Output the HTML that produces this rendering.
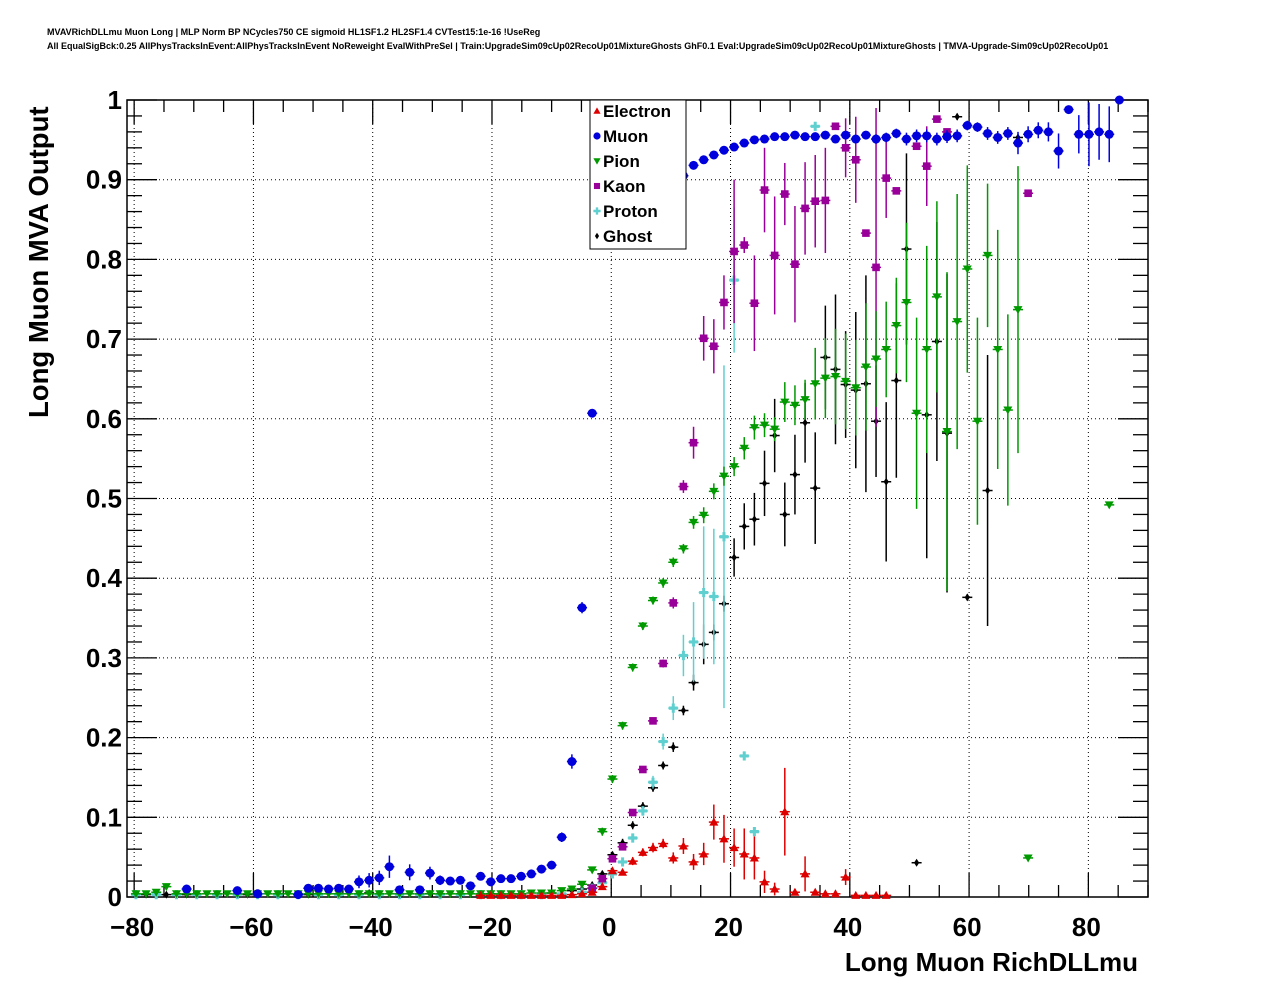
<!DOCTYPE html>
<html><head><meta charset="utf-8"><style>
html,body{margin:0;padding:0;background:#fff;}
svg{display:block;font-family:"Liberation Sans",Arial,sans-serif;}
</style></head><body>
<svg id="chart" width="1276" height="996" viewBox="0 0 1276 996" xmlns="http://www.w3.org/2000/svg">
<rect x="0" y="0" width="1276" height="996" fill="#fff"/>
<text x="47" y="35" font-size="9" font-weight="bold">MVAVRichDLLmu Muon Long | MLP Norm BP NCycles750 CE sigmoid HL1SF1.2 HL2SF1.4 CVTest15:1e-16 !UseReg</text>
<text x="47" y="49" font-size="9" font-weight="bold">All EqualSigBck:0.25 AllPhysTracksInEvent:AllPhysTracksInEvent NoReweight EvalWithPreSel | Train:UpgradeSim09cUp02RecoUp01MixtureGhosts GhF0.1 Eval:UpgradeSim09cUp02RecoUp01MixtureGhosts | TMVA-Upgrade-Sim09cUp02RecoUp01</text>
<g id="grid"></g>
<g id="axes"></g>
<g id="marks"></g>
<text x="1138" y="971" font-size="26" font-weight="bold" text-anchor="end">Long Muon RichDLLmu</text>
<text transform="translate(48,418) rotate(-90)" x="0" y="0" font-size="27.5" font-weight="bold">Long Muon MVA Output</text>
<g id="legend"></g>
</svg>
<script>
// ---- data ----
const muonX=[-71.2,-62.7,-59.3,-52.5,-50.8,-49.1,-47.4,-45.7,-44.0,-42.3,-40.6,-38.9,-37.2,-35.5,-33.8,-32.1,-30.4,-28.7,-27.0,-25.3,-23.6,-21.9,-20.2,-18.5,-16.8,-15.1,-13.4,-11.7,-10.0,-8.3,-6.6,-4.9,-3.2,
12.1,13.8,15.5,17.2,18.9,20.6,22.3,24.0,25.7,27.4,29.1,30.8,32.5,34.2,35.9,37.6,39.3,41.0,42.7,44.4,46.1,47.8,49.5,51.2,52.9,54.6,56.3,58.0,59.7,61.4,63.1,64.8,66.5,68.2,69.9,71.6,73.3,75.0,76.7,78.4,80.1,81.8,83.5,85.2];
const muonY=[0.010,0.008,0.004,0.003,0.011,0.011,0.010,0.011,0.010,0.019,0.021,0.024,0.038,0.009,0.031,0.009,0.030,0.021,0.020,0.021,0.014,0.026,0.019,0.023,0.023,0.026,0.029,0.035,0.040,0.075,0.170,0.363,0.607,
0.905,0.918,0.925,0.931,0.937,0.941,0.946,0.950,0.951,0.954,0.954,0.956,0.954,0.954,0.956,0.951,0.956,0.951,0.956,0.951,0.953,0.958,0.951,0.955,0.955,0.951,0.954,0.955,0.968,0.966,0.958,0.953,0.958,0.946,0.957,0.962,0.960,0.936,0.988,0.957,0.957,0.960,0.957,1.000];
const muonErr=[0.003,0.003,0.002,0.002,0.004,0.004,0.004,0.004,0.004,0.008,0.009,0.009,0.014,0.004,0.010,0.004,0.008,0.006,0.005,0.005,0.005,0.005,0.005,0.005,0.004,0.004,0.004,0.004,0.004,0.006,0.009,0.007,0.005,
0.004,0.004,0.004,0.003,0.003,0.003,0.003,0.003,0.003,0.003,0.003,0.003,0.003,0.003,0.003,0.004,0.004,0.004,0.005,0.006,0.006,0.006,0.008,0.008,0.008,0.008,0.008,0.008,0.006,0.006,0.008,0.008,0.008,0.014,0.010,0.010,0.012,0.022,0.004,0.024,0.040,0.035,0.035,0.004];

const pionX=[-79.7,-78.0,-76.3,-74.6,-72.9,-71.2,-69.5,-67.8,-66.1,-64.4,-62.7,-61.0,-59.3,-57.6,-55.9,-54.2,-52.5,-50.8,-49.1,-47.4,-45.7,-44.0,-42.3,-40.6,-38.9,-37.2,-35.5,-33.8,-32.1,-30.4,-28.7,-27.0,-25.3,-23.6,-21.9,-20.2,-18.5,-16.8,-15.1,-13.4,-11.7,-10.0,-8.3,-6.6,-4.9,-3.2,-1.5,
0.2,1.9,3.6,5.3,7.0,8.7,10.4,12.1,13.8,15.5,17.2,18.9,20.6,22.3,24.0,25.7,27.4,29.1,30.8,32.5,34.2,35.9,37.6,39.3,41.0,42.7,44.4,46.1,47.8,49.5,51.2,52.9,54.6,56.3,58.0,59.7,61.4,63.1,64.8,66.5,68.2,69.9,83.5];
const pionY=[0.004,0.004,0.006,0.013,0.004,0.004,0.004,0.004,0.004,0.004,0.004,0.004,0.004,0.004,0.004,0.004,0.004,0.004,0.004,0.004,0.004,0.004,0.004,0.004,0.004,0.004,0.004,0.004,0.004,0.004,0.004,0.004,0.004,0.004,0.004,0.004,0.004,0.004,0.004,0.005,0.005,0.005,0.008,0.010,0.016,0.034,0.082,
0.148,0.215,0.288,0.340,0.372,0.394,0.420,0.437,0.470,0.479,0.509,0.528,0.540,0.563,0.589,0.592,0.587,0.621,0.617,0.624,0.644,0.651,0.653,0.647,0.639,0.665,0.675,0.687,0.717,0.746,0.607,0.687,0.753,0.584,0.722,0.788,0.597,0.805,0.687,0.611,0.737,0.049,0.492];
const pionErr=[0.002,0.002,0.002,0.004,0.002,0.002,0.002,0.002,0.002,0.002,0.002,0.002,0.002,0.002,0.002,0.002,0.002,0.002,0.002,0.002,0.002,0.002,0.002,0.002,0.002,0.002,0.002,0.002,0.002,0.002,0.002,0.002,0.002,0.002,0.002,0.002,0.002,0.002,0.002,0.002,0.002,0.002,0.002,0.002,0.003,0.004,0.005,
0.005,0.005,0.005,0.005,0.005,0.006,0.006,0.006,0.008,0.010,0.010,0.012,0.012,0.014,0.015,0.015,0.015,0.025,0.025,0.025,0.045,0.050,0.060,0.060,0.060,0.080,0.060,0.060,0.060,0.100,0.120,0.130,0.120,0.200,0.160,0.130,0.130,0.090,0.150,0.120,0.180,0.003,0.003];

const kaonX=[-3.2,-1.5,0.2,1.9,3.6,5.3,7.0,8.7,10.4,12.1,13.8,15.5,17.2,18.9,20.6,22.3,24.0,25.7,27.4,29.1,30.8,32.5,34.2,35.9,37.6,39.3,41.0,42.7,44.4,46.1,47.8,51.2,52.9,54.6,56.3,69.9];
const kaonY=[0.011,0.023,0.048,0.063,0.106,0.160,0.221,0.293,0.369,0.515,0.570,0.701,0.691,0.746,0.810,0.818,0.745,0.887,0.805,0.882,0.794,0.864,0.873,0.874,0.967,0.940,0.925,0.833,0.790,0.902,0.886,0.942,0.917,0.976,0.960,0.883];
const kaonErr=[0.002,0.003,0.003,0.003,0.004,0.004,0.004,0.005,0.007,0.008,0.020,0.028,0.034,0.034,0.090,0.010,0.060,0.053,0.074,0.039,0.073,0.058,0.058,0.066,0.004,0.037,0.054,0.004,0.200,0.050,0.004,0.004,0.050,0.004,0.004,0.004];

const protonX=[-79.7,-76.3,-72.9,-69.5,-66.1,-62.7,-59.3,-55.9,-52.5,-49.1,-45.7,-42.3,-38.9,-35.5,-32.1,-28.7,-25.3,-21.9,-18.5,-15.1,-11.7,-8.3,-4.9,-3.2,-1.5,0.2,1.9,3.6,5.3,7.0,8.7,10.4,12.1,13.8,15.5,17.2,18.9,20.6,22.3,24.0,34.2];
const protonY=[0.003,0.003,0.003,0.003,0.003,0.003,0.003,0.003,0.003,0.003,0.003,0.003,0.003,0.003,0.003,0.003,0.003,0.003,0.003,0.003,0.003,0.004,0.006,0.011,0.018,0.029,0.044,0.074,0.108,0.144,0.195,0.237,0.303,0.320,0.382,0.377,0.452,0.774,0.177,0.082,0.967];
const protonErr=[0.002,0.002,0.002,0.002,0.002,0.002,0.002,0.002,0.002,0.002,0.002,0.002,0.002,0.002,0.002,0.002,0.002,0.002,0.002,0.002,0.002,0.002,0.002,0.003,0.003,0.004,0.004,0.005,0.006,0.008,0.010,0.015,0.026,0.050,0.083,0.085,0.215,0.091,0.004,0.004,0.004];

const ghostX=[-78.0,-74.6,-71.2,-66.1,-61.0,-55.9,-50.8,-45.7,-40.6,-35.5,-30.4,-25.3,-20.2,-15.1,-10.0,-6.6,-4.9,-3.2,-1.5,0.2,1.9,3.6,5.3,7.0,8.7,10.4,12.1,13.8,15.5,17.2,18.9,20.6,22.3,24.0,25.7,27.4,29.1,30.8,32.5,34.2,35.9,37.6,39.3,41.0,42.7,44.4,46.1,47.8,49.5,51.2,52.9,54.6,56.3,58.0,59.7,63.1,68.2];
const ghostY=[0.003,0.003,0.003,0.003,0.003,0.003,0.003,0.004,0.005,0.004,0.004,0.004,0.004,0.004,0.005,0.008,0.010,0.015,0.029,0.053,0.068,0.090,0.114,0.137,0.165,0.188,0.234,0.269,0.317,0.332,0.368,0.426,0.465,0.474,0.519,0.579,0.480,0.530,0.595,0.513,0.677,0.662,0.643,0.636,0.644,0.597,0.521,0.648,0.813,0.043,0.605,0.697,0.582,0.979,0.376,0.510,0.953];
const ghostErr=[0.002,0.002,0.002,0.002,0.002,0.002,0.002,0.002,0.002,0.002,0.002,0.002,0.002,0.002,0.002,0.003,0.003,0.004,0.004,0.004,0.005,0.005,0.005,0.005,0.005,0.006,0.006,0.010,0.025,0.010,0.010,0.024,0.029,0.033,0.041,0.046,0.040,0.050,0.050,0.070,0.065,0.094,0.067,0.098,0.136,0.070,0.100,0.122,0.120,0.003,0.180,0.150,0.200,0.004,0.004,0.170,0.004];

const electronX=[-21.9,-20.2,-18.5,-16.8,-15.1,-13.4,-11.7,-10.0,-8.3,-6.6,-4.9,-3.2,-1.5,0.2,1.9,3.6,5.3,7.0,8.7,10.4,12.1,13.8,15.5,17.2,18.9,20.6,22.3,24.0,25.7,27.4,29.1,30.8,32.5,34.2,35.9,37.6,39.3,41.0,42.7,44.4,46.1];
const electronY=[0.002,0.002,0.002,0.002,0.002,0.002,0.002,0.002,0.002,0.003,0.004,0.006,0.013,0.033,0.031,0.045,0.056,0.062,0.067,0.049,0.064,0.044,0.054,0.094,0.073,0.062,0.054,0.049,0.019,0.010,0.107,0.006,0.029,0.006,0.004,0.004,0.025,0.002,0.002,0.002,0.002];
const electronErr=[0.002,0.002,0.002,0.002,0.002,0.002,0.002,0.002,0.002,0.002,0.002,0.003,0.003,0.004,0.004,0.005,0.005,0.006,0.006,0.007,0.010,0.010,0.014,0.022,0.030,0.024,0.032,0.027,0.014,0.008,0.055,0.004,0.022,0.004,0.004,0.004,0.010,0.002,0.002,0.002,0.002];

const xTicks=[-80,-60,-40,-20,0,20,40,60,80];
const xTickLabels=["\u221280","\u221260","\u221240","\u221220","0","20","40","60","80"];
const yTicks=[0,0.1,0.2,0.3,0.4,0.5,0.6,0.7,0.8,0.9,1];
const yTickLabels=["0","0.1","0.2","0.3","0.4","0.5","0.6","0.7","0.8","0.9","1"];
const legendLabels=["Electron","Muon","Pion","Kaon","Proton","Ghost"];

// ---- axes functions ----
const L=127,R=1148,T=100,B=897,XMIN=-81.2,XMAX=90.0,YMIN=0,YMAX=1;
const sx=v=>L+(v-XMIN)/(XMAX-XMIN)*(R-L);
const sy=v=>B-(v-YMIN)/(YMAX-YMIN)*(B-T);
const NS="http://www.w3.org/2000/svg";
function mk(tag,attrs,parent){const e=document.createElementNS(NS,tag);for(const k in attrs)e.setAttribute(k,attrs[k]);parent.appendChild(e);return e;}
const grid=document.getElementById('grid'),axes=document.getElementById('axes'),marks=document.getElementById('marks'),legend=document.getElementById('legend');

xTicks.forEach((t,i)=>{
  const g=mk('line',{x1:sx(t),x2:sx(t),y1:T,y2:B,stroke:'#000','stroke-width':1,'stroke-dasharray':'1,3'},grid);
  
  
  const tx=mk('text',{x:sx(t)-2,y:936,'font-size':26,'font-weight':'bold','text-anchor':'middle'},axes);
  tx.textContent=xTickLabels[i];
  
  
});
yTicks.forEach((t,i)=>{
  if(t>0&&t<1){const g=mk('line',{x1:L,x2:R,y1:sy(t),y2:sy(t),stroke:'#000','stroke-width':1,'stroke-dasharray':'1,3'},grid);
  
  }
  const tx=mk('text',{x:122,y:sy(t)+9,'font-size':26,'font-weight':'bold','text-anchor':'end'},axes);
  tx.textContent=yTickLabels[i];
  
  
});
// ticks
for(let v=-80;v<=90;v+=5){const maj=v%20===0,len=maj?24:12;
  mk('line',{x1:sx(v),x2:sx(v),y1:B,y2:B-len,stroke:'#000','stroke-width':1.3},axes);
  mk('line',{x1:sx(v),x2:sx(v),y1:T,y2:T+len,stroke:'#000','stroke-width':1.3},axes);}
for(let k=0;k<=50;k++){const v=k*0.02,maj=k%5===0,len=maj?30:15;
  mk('line',{x1:L,x2:L+len,y1:sy(v),y2:sy(v),stroke:'#000','stroke-width':1.3},axes);
  mk('line',{x1:R,x2:R-len,y1:sy(v),y2:sy(v),stroke:'#000','stroke-width':1.3},axes);}
const frame=mk('rect',{x:L,y:T,width:R-L,height:B-T,fill:'none',stroke:'#000','stroke-width':1.5},axes);



function marker(shape,cx,cy,col,parent,s){
  s=s||1;
  if(shape==='tri-up')return mk('polygon',{points:`${cx},${cy-4.5*s} ${cx-4.5*s},${cy+3.5*s} ${cx+4.5*s},${cy+3.5*s}`,fill:col},parent);
  if(shape==='tri-down')return mk('polygon',{points:`${cx},${cy+4.5*s} ${cx-4.5*s},${cy-3.5*s} ${cx+4.5*s},${cy-3.5*s}`,fill:col},parent);
  if(shape==='circle')return mk('circle',{cx:cx,cy:cy,r:4.5*s,fill:col},parent);
  if(shape==='square')return mk('rect',{x:cx-3.8*s,y:cy-3.8*s,width:7.6*s,height:7.6*s,fill:col},parent);
  if(shape==='cross')return mk('path',{d:`M${cx-4.5*s},${cy-1.6*s}h${3*s}v${-3*s}h${3*s}v${3*s}h${3*s}v${3.2*s}h${-3*s}v${3*s}h${-3*s}v${-3*s}h${-3*s}z`,fill:col},parent);
  return mk('path',{d:`M${cx},${cy-4*s}L${cx+2.6*s},${cy}L${cx},${cy+4*s}L${cx-2.6*s},${cy}z`,fill:col},parent);
}
function series(name,xs,ys,es,col,shape){
  const g=mk('g',{},marks);
  
  
  xs.forEach((x,i)=>{
    const cx=sx(x),cy=sy(ys[i]),y1=Math.max(T,sy(ys[i]+es[i])),y2=Math.min(B,sy(ys[i]-es[i]));
    mk('line',{x1:cx-5,x2:cx+5,y1:cy,y2:cy,stroke:col,'stroke-width':1.5},g);
    mk('line',{x1:cx,x2:cx,y1:y1,y2:y2,stroke:col,'stroke-width':1.5},g);
    const m=marker(shape,cx,cy,col,g);
    
    
  });
}
series('ghost',ghostX,ghostY,ghostErr,'#000000','diamond');
series('proton',protonX,protonY,protonErr,'#5fcfcf','cross');
series('kaon',kaonX,kaonY,kaonErr,'#990099','square');
series('pion',pionX,pionY,pionErr,'#009900','tri-down');
series('electron',electronX,electronY,electronErr,'#dd0000','tri-up');
series('muon',muonX,muonY,muonErr,'#0000dd','circle');

// legend
const lb=mk('rect',{x:590,y:100,width:96,height:149,fill:'#fff',stroke:'#000','stroke-width':1},legend);


const lcols=['#dd0000','#0000dd','#009900','#990099','#5fcfcf','#000000'];
const lshapes=['tri-up','circle','tri-down','square','cross','diamond'];
legendLabels.forEach((lab,i)=>{
  const y=111+i*25;
  const g=mk('g',{},legend);
  
  
  marker(lshapes[i],597,y,lcols[i],g,0.8);
  const t=mk('text',{x:603,y:y+6,'font-size':17,'font-weight':'bold'},g);
  t.textContent=lab;
});
</script>
</body></html>
